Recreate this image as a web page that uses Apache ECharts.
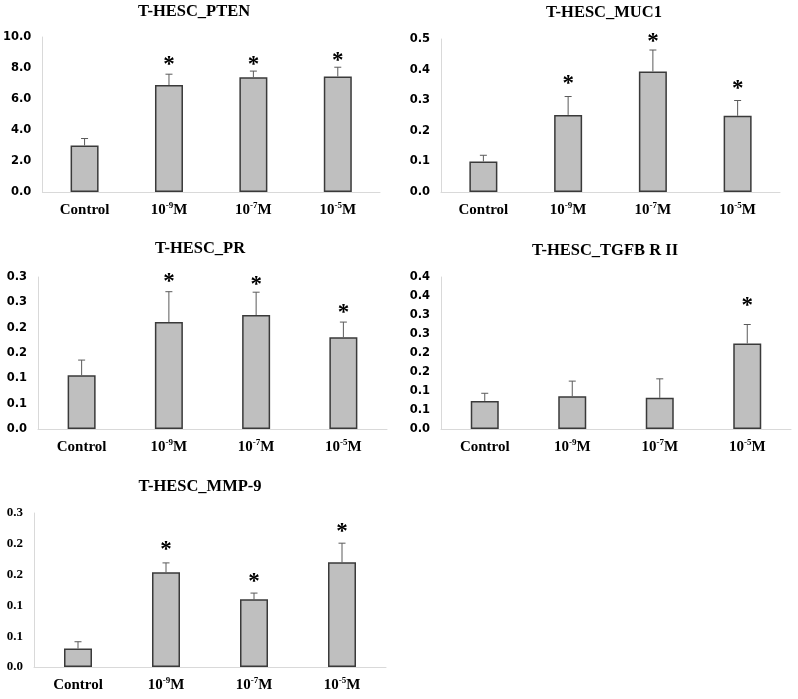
<!DOCTYPE html>
<html>
<head>
<meta charset="utf-8">
<script src="https://cdn.jsdelivr.net/npm/echarts@6/dist/echarts.min.js"></script>
<style>
html,body{margin:0;padding:0;background:#fff;}
#chart{width:798px;height:699px;}
</style>
</head>
<body>
<div id="chart"></div>
<script>
// ---- Data ----
var categories = ['Control', '10-9M', '10-7M', '10-5M'];

var titles = ['T-HESC_PTEN', 'T-HESC_MUC1', 'T-HESC_PR', 'T-HESC_TGFB R II', 'T-HESC_MMP-9'];

var ptenMean = [3.0, 6.9, 7.4, 7.45];
var ptenErr  = [0.45, 0.7, 0.4, 0.6];
var ptenStar = [null, 8.46, 8.46, 8.72];

var muc1Mean = [0.10, 0.252, 0.394, 0.249];
var muc1Err  = [0.02, 0.06, 0.07, 0.05];
var muc1Star = [null, 0.366, 0.503, 0.351];

var prMean = [0.106, 0.211, 0.225, 0.181];
var prErr  = [0.03, 0.06, 0.045, 0.03];
var prStar = [null, 0.297, 0.292, 0.236];

var tgfbMean = [0.074, 0.086, 0.082, 0.225];
var tgfbErr  = [0.02, 0.04, 0.05, 0.05];
var tgfbStar = [null, null, null, 0.333];

var mmpMean = [0.030, 0.154, 0.110, 0.170];
var mmpErr  = [0.011, 0.015, 0.010, 0.031];
var mmpStar = [null, 0.197, 0.144, 0.2256];

var ptenTicks = ['0.0', '2.0', '4.0', '6.0', '8.0', '10.0'];
var muc1Ticks = ['0.0', '0.1', '0.2', '0.3', '0.4', '0.5'];
var prTicks   = ['0.0', '0.1', '0.1', '0.2', '0.2', '0.3', '0.3'];
var tgfbTicks = ['0.0', '0.1', '0.1', '0.2', '0.2', '0.3', '0.3', '0.4', '0.4'];
var mmpTicks  = ['0.0', '0.1', '0.1', '0.2', '0.2', '0.3'];

var axisMax      = [10, 0.5, 0.3, 0.4, 0.25];
var axisInterval = [2, 0.1, 0.05, 0.05, 0.05];

// ---- Layout / style ----
var panels = [
  {mean: ptenMean, err: ptenErr, star: ptenStar, ticks: ptenTicks, grid: {left: 37, top: 37, width: 343, height: 155}, title: [194, 3], yFont: 'sans'},
  {mean: muc1Mean, err: muc1Err, star: muc1Star, ticks: muc1Ticks, grid: {left: 441, top: 39, width: 339, height: 153}, title: [604, 4], yFont: 'sans'},
  {mean: prMean, err: prErr, star: prStar, ticks: prTicks, grid: {left: 38, top: 277, width: 349, height: 152}, title: [200, 240], yFont: 'sans'},
  {mean: tgfbMean, err: tgfbErr, star: tgfbStar, ticks: tgfbTicks, grid: {left: 441, top: 277, width: 350, height: 152}, title: [605, 242], yFont: 'sans'},
  {mean: mmpMean, err: mmpErr, star: mmpStar, ticks: mmpTicks, grid: {left: 34, top: 513, width: 352, height: 154}, title: [200, 478], yFont: 'serif'}
];

var serif = '"Liberation Serif", "Times New Roman", serif';
var sans = '"DejaVu Sans", sans-serif';

function catFormatter(v) {
  var m = /^10(-\d+)M$/.exec(v);
  if (m) return '{n|10}{sup|' + m[1] + '}{n|M}';
  return '{n|' + v + '}';
}

var option = {
  backgroundColor: '#ffffff',
  animation: false,
  title: [], grid: [], xAxis: [], yAxis: [], series: []
};

panels.forEach(function (p, k) {
  option.title.push({
    text: titles[k],
    left: p.title[0], top: p.title[1], textAlign: 'center', padding: 0,
    textStyle: {fontFamily: serif, fontWeight: 'bold', fontSize: 16.5, color: '#000'}
  });
  option.grid.push(Object.assign({containLabel: false}, p.grid));
  option.xAxis.push({
    type: 'category', gridIndex: k, data: categories,
    axisLine: {show: true, lineStyle: {color: '#d9d9d9', width: 1}},
    axisTick: {show: false},
    axisLabel: {
      margin: 9, interval: 0,
      formatter: catFormatter,
      rich: {
        n: {fontFamily: serif, fontWeight: 'bold', fontSize: 15, color: '#000', lineHeight: 18},
        sup: {fontFamily: serif, fontWeight: 'bold', fontSize: 9, color: '#000', lineHeight: 10, verticalAlign: 'top'}
      }
    }
  });
  var ticks = p.ticks;
  option.yAxis.push({
    type: 'value', gridIndex: k, min: 0, max: axisMax[k], interval: axisInterval[k],
    axisLine: {show: true, lineStyle: {color: '#d9d9d9', width: 1}},
    axisTick: {show: false},
    splitLine: {show: false},
    axisLabel: {
      margin: 11,
      fontFamily: p.yFont === 'serif' ? serif : sans,
      fontWeight: 'bold',
      fontSize: p.yFont === 'serif' ? 13 : 11.5,
      color: '#000',
      formatter: function (v, i) { return ticks[i]; }
    }
  });
  option.series.push({
    type: 'bar', xAxisIndex: k, yAxisIndex: k,
    data: p.mean, barWidth: 28,
    itemStyle: {color: '#bfbfbf', borderColor: '#3a3a3a', borderWidth: 1.5},
    z: 2
  });
  option.series.push({
    type: 'custom', xAxisIndex: k, yAxisIndex: k,
    data: p.mean.map(function (m, i) { return [i, m, p.err[i]]; }),
    encode: {x: 0, y: 1},
    z: 3,
    renderItem: function (params, api) {
      var base = api.coord([api.value(0), api.value(1)]);
      var top = api.coord([api.value(0), api.value(1) + api.value(2)]);
      var st = {stroke: '#5a5a5a', lineWidth: 1};
      return {type: 'group', children: [
        {type: 'line', shape: {x1: base[0], y1: base[1], x2: top[0], y2: top[1]}, style: st},
        {type: 'line', shape: {x1: top[0] - 3.5, y1: top[1], x2: top[0] + 3.5, y2: top[1]}, style: st}
      ]};
    }
  });
  option.series.push({
    type: 'custom', xAxisIndex: k, yAxisIndex: k,
    data: p.star.map(function (s, i) { return s == null ? [i, '-'] : [i, s]; }),
    encode: {x: 0, y: 1},
    clip: false,
    z: 4,
    renderItem: function (params, api) {
      var v = api.value(1);
      if (v == null || isNaN(v)) return null;
      var c = api.coord([api.value(0), v]);
      return {type: 'text', x: c[0], y: c[1] + 4, style: {
        text: '*', fill: '#000', textAlign: 'center', textVerticalAlign: 'middle',
        font: 'bold 23px ' + serif
      }};
    }
  });
});

var chart = echarts.init(document.getElementById('chart'), null, {renderer: 'canvas'});
chart.setOption(option);
</script>
</body>
</html>
